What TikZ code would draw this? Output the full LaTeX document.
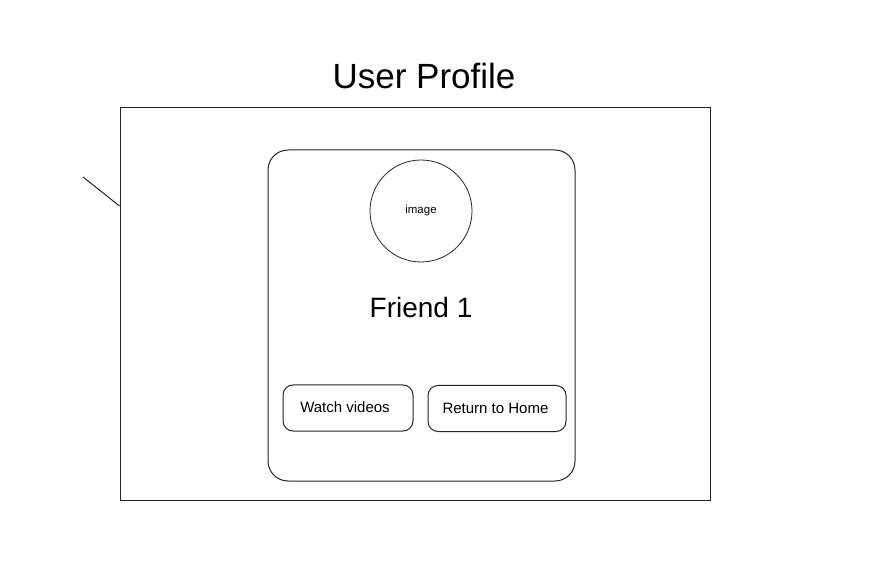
\documentclass[tikz,border=0pt]{standalone}
\usepackage{fontspec}
\setmainfont{Liberation Sans}
\begin{document}
\begin{tikzpicture}[x=1pt,y=-1pt,
  frame/.style={draw=black!85,line width=1pt},
  card/.style={draw=black!85,line width=1pt,rounded corners=20pt},
  btn/.style={draw=black!85,line width=1pt,rounded corners=10pt,minimum width=130pt,minimum height=46pt},
  btntext/.style={font=\fontsize{15}{17}\selectfont,inner sep=0pt},
  avatar/.style={draw=black!85,line width=0.8pt,circle,minimum size=102pt,font=\fontsize{11.5}{13}\selectfont}]
  \useasboundingbox (0,0) rectangle (884,577);
  \fill[white] (0,0) rectangle (884,577);
  % page title
  \node (title) at (424,76) {\fontsize{35}{40}\selectfont User Profile};
  % screen frame with a short tick on its left edge
  \node[frame,minimum width=590pt,minimum height=392pt,inner sep=0pt] (screen) at (415,304) {};
  \coordinate (tick) at (83,177);
  \draw[black!85,line width=1pt] (tick) -- (screen.west |- 0,206);
  % profile card
  \node[card,minimum width=307pt,minimum height=331pt,inner sep=0pt] (profile) at (421.5,315.5) {};
  \node[avatar] (img) at (421,211) {image};
  \node (name) at (421,307) {\fontsize{28}{32}\selectfont Friend 1};
  % buttons
  \node[btn] (watch) at (348,408) {};
  \node[btntext] (watchlabel) at (345,407) {Watch videos};
  \node[btn,minimum width=138pt] (home) at (497,408.5) {};
  \node[btntext] (homelabel) at (495.5,408) {Return to Home};
\end{tikzpicture}
\end{document}
